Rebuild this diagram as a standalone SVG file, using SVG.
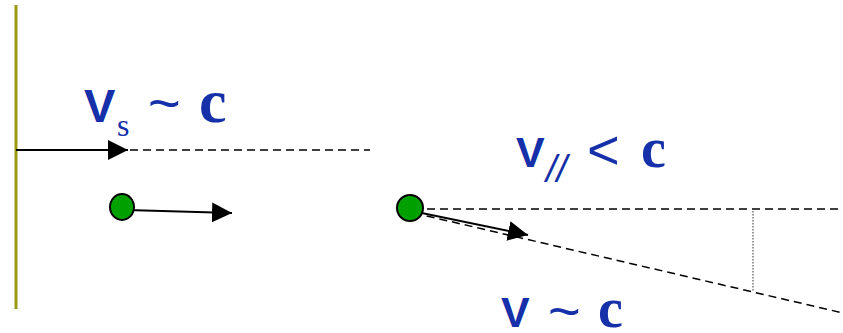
<svg xmlns="http://www.w3.org/2000/svg" width="843" height="333" viewBox="0 0 843 333">
<style>
.lbl{fill:#1530a8;}
.v{font-family:"Liberation Sans",Arial,sans-serif;font-weight:bold;font-size:47px;}
.v2{font-family:"Liberation Sans",Arial,sans-serif;font-weight:bold;font-size:43px;}
.c{font-family:"Liberation Serif","Times New Roman",serif;font-weight:bold;font-size:62px;}
.c2{font-family:"Liberation Serif","Times New Roman",serif;font-weight:bold;font-size:56px;}
.t{font-family:"Liberation Sans",Arial,sans-serif;font-size:56px;}
.sub{font-family:"Liberation Serif","Times New Roman",serif;font-size:32px;}
.par{font-family:"Liberation Sans",Arial,sans-serif;font-style:italic;font-size:38px;}
.dash{stroke:#000;stroke-width:1.5;stroke-dasharray:8 5;fill:none;}
.solid{stroke:#000;stroke-width:2;fill:none;}
.ball{fill:#00a000;stroke:#000;stroke-width:2;}
</style>
<defs>
<marker id="ah" markerWidth="20" markerHeight="20" viewBox="0 0 20 20" refX="20" refY="10" orient="auto" markerUnits="userSpaceOnUse">
<path d="M0,0 L20,10 L0,20 Z" fill="#000"/>
</marker>
</defs>
<g id="wall"><line x1="16" y1="5" x2="16" y2="309" stroke="#9c9a14" stroke-width="3"/></g>
<g id="connectors">
<line class="solid" x1="16" y1="150" x2="128" y2="150" marker-end="url(#ah)"/>
<line class="dash" x1="130" y1="150" x2="370" y2="150"/>
<line class="solid" x1="127" y1="210" x2="232" y2="213" marker-end="url(#ah)"/>
<line class="dash" x1="414" y1="209" x2="843" y2="209"/>
<line class="dash" x1="414" y1="213" x2="843" y2="313"/>
<line class="solid" x1="412" y1="211" x2="528" y2="235" marker-end="url(#ah)"/>
<line x1="753" y1="211" x2="753" y2="292" stroke="#555" stroke-width="1.2" stroke-dasharray="1.5 1.5"/>
</g>
<g id="ball1"><ellipse class="ball" cx="122" cy="207" rx="12" ry="13"/></g>
<g id="ball2"><ellipse class="ball" cx="410" cy="208" rx="13" ry="13"/></g>
<g id="label-vs" class="lbl">
<text class="v" x="84" y="122">V</text>
<text class="sub" x="117" y="136">s</text>
<text class="t" x="148" y="122">~</text>
<text class="c" x="199" y="122">c</text>
</g>
<g id="label-vpar" class="lbl">
<text class="v2" x="516" y="167">V</text>
<text class="par" x="546" y="182">//</text>
<text class="t" x="587" y="169">&lt;</text>
<text class="c2" x="641" y="167">c</text>
</g>
<g id="label-v" class="lbl">
<text class="v2" x="501" y="327">V</text>
<text class="t" x="548" y="330">~</text>
<text class="c2" x="598" y="327">c</text>
</g>
</svg>
